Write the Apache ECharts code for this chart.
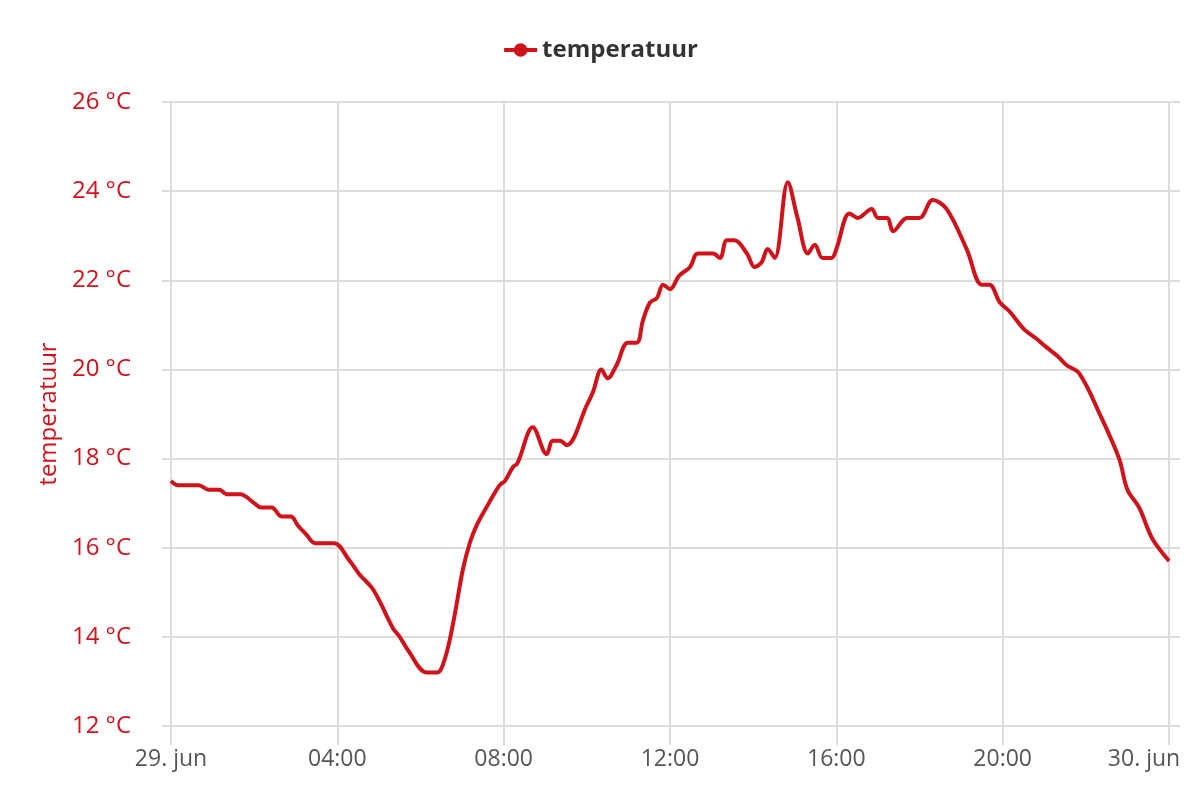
<!DOCTYPE html>
<html>
<head>
<meta charset="utf-8">
<script src="https://cdn.jsdelivr.net/npm/echarts@6/dist/echarts.min.js"></script>
<style>
  html, body { margin: 0; padding: 0; background: #fff; }
  #chart { width: 1200px; height: 800px; }
</style>
</head>
<body>
<div id="chart"></div>
<script>
// readings for 29 jun (HH:MM) and temperature in °C
const times = [
  '00:00', '00:10', '00:40', '00:55', '01:10', '01:20', '01:40', '02:00', '02:10', '02:25',
  '02:40', '02:53', '03:03', '03:15', '03:28', '03:55', '04:18', '04:32', '04:50', '05:01',
  '05:20', '05:30', '05:42', '06:09', '06:24', '06:35', '06:47', '07:01', '07:11', '07:21',
  '07:35', '07:54', '08:02', '08:13', '08:20', '08:42', '09:02', '09:11', '09:21', '09:31',
  '10:00', '10:09', '10:21', '10:30', '10:43', '10:59', '11:12', '11:21', '11:31', '11:41',
  '11:50', '12:00', '12:13', '12:29', '12:40', '13:02', '13:12', '13:22', '13:33', '13:51',
  '14:02', '14:12', '14:21', '14:31', '14:50', '15:04', '15:19', '15:29', '15:40', '15:53',
  '16:00', '16:19', '16:31', '16:51', '17:00', '17:13', '17:22', '17:42', '18:00', '18:19',
  '18:39', '19:08', '19:30', '19:41', '19:56', '20:10', '20:31', '20:48', '21:03', '21:19',
  '21:32', '21:51', '22:20', '22:48', '23:00', '23:17', '23:36', '24:00'
];
const temps = [
  17.5, 17.4, 17.4, 17.3, 17.3, 17.2, 17.2, 17.0, 16.9, 16.9,
  16.7, 16.7, 16.5, 16.3, 16.1, 16.1, 15.7, 15.4, 15.1, 14.8,
  14.2, 14.0, 13.7, 13.2, 13.2, 13.5, 14.3, 15.5, 16.1, 16.5,
  16.9, 17.4, 17.5, 17.8, 17.9, 18.7, 18.1, 18.4, 18.4, 18.3,
  19.2, 19.5, 20.0, 19.8, 20.1, 20.6, 20.6, 21.1, 21.5, 21.6,
  21.9, 21.8, 22.1, 22.3, 22.6, 22.6, 22.5, 22.9, 22.9, 22.6,
  22.3, 22.4, 22.7, 22.5, 24.2, 23.4, 22.6, 22.8, 22.5, 22.5,
  22.7, 23.5, 23.4, 23.6, 23.4, 23.4, 23.1, 23.4, 23.4, 23.8,
  23.6, 22.7, 21.9, 21.9, 21.5, 21.3, 20.9, 20.7, 20.5, 20.3,
  20.1, 19.9, 19.0, 18.0, 17.3, 16.9, 16.2, 15.7
];
const xTickLabels = ['29. jun', '04:00', '08:00', '12:00', '16:00', '20:00', '30. jun'];

const toMinutes = t => {
  const [h, m] = t.split(':').map(Number);
  return h * 60 + m;
};

const red = '#d0121b';
const grey = '#dcdcdc';
const font = '"Open Sans", "Noto Sans", sans-serif';

const chart = echarts.init(document.getElementById('chart'));
chart.setOption({
  animation: false,
  textStyle: { fontFamily: font },
  legend: {
    top: 33,
    left: 'center',
    itemWidth: 33,
    itemHeight: 17,
    itemGap: 12,
    lineStyle: { width: 4 },
    textStyle: { fontSize: 24, fontWeight: 'bold', color: '#333', fontFamily: font },
    data: ['temperatuur']
  },
  // grid 0: horizontal gridlines + y labels (plot box is a bit wider than the data range)
  // grid 1: the data, x axis ticks and vertical gridlines
  grid: [
    { left: 162, right: 20, top: 102, bottom: 74 },
    { left: 171, right: 31, top: 102, bottom: 74 }
  ],
  xAxis: [{
    gridIndex: 0,
    type: 'value',
    show: false
  }, {
    gridIndex: 1,
    type: 'value',
    min: 0,
    max: 1440,
    interval: 240,
    axisLine: { show: false },
    axisTick: { show: true, length: 19, lineStyle: { color: grey, width: 2 } },
    splitLine: { show: true, lineStyle: { color: grey, width: 2 } },
    axisLabel: {
      margin: 22,
      fontSize: 23,
      color: '#555',
      formatter: v => {
        const i = Math.round(v / 240);
        return i === xTickLabels.length - 1 ? '{last|' + xTickLabels[i] + '}' : xTickLabels[i];
      },
      rich: {
        last: { fontSize: 23, color: '#555', padding: [0, 50, 0, 0] }
      }
    }
  }],
  yAxis: [{
    gridIndex: 0,
    type: 'value',
    min: 12,
    max: 26,
    interval: 2,
    name: 'temperatuur',
    nameLocation: 'middle',
    nameGap: 101,
    nameRotate: 90,
    nameTextStyle: { color: red, fontSize: 24 },
    axisLine: { show: false },
    axisTick: { show: false },
    splitLine: { show: true, lineStyle: { color: grey, width: 2 } },
    axisLabel: {
      margin: 31,
      fontSize: 24,
      color: red,
      formatter: '{value} °C'
    }
  }, {
    gridIndex: 1,
    type: 'value',
    min: 12,
    max: 26,
    show: false,
    splitLine: { show: false }
  }],
  series: [{
    name: 'temperatuur',
    type: 'line',
    xAxisIndex: 1,
    yAxisIndex: 1,
    smooth: 0.35,
    symbol: 'circle',
    symbolSize: 14,
    showSymbol: false,
    color: red,
    lineStyle: { color: red, width: 4 },
    data: times.map((t, i) => [toMinutes(t), temps[i]])
  }]
});
</script>
</body>
</html>
